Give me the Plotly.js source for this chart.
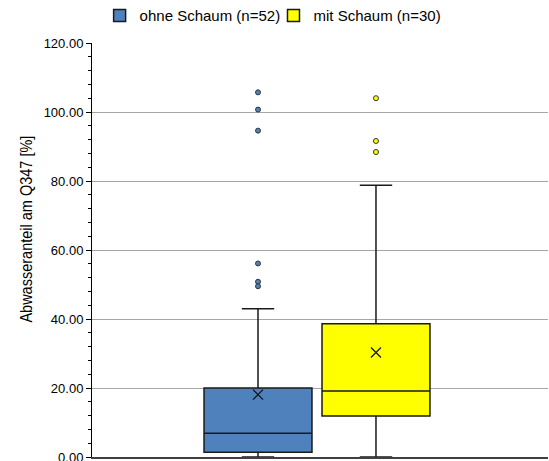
<!DOCTYPE html>
<html>
<head>
<meta charset="utf-8">
<script src="https://cdn.plot.ly/plotly-3.0.1.min.js"></script>
<style>html,body{margin:0;padding:0;background:#fff}#chart{width:549px;height:461px}</style>
</head>
<body>
<div id="chart"></div>
<script>
// Data
const categories = ['ohne Schaum (n=52)', 'mit Schaum (n=30)'];
const q1 = [1.4, 11.9];
const median = [6.9, 19.1];
const q3 = [20.0, 38.6];
const lowerWhisker = [0, 0];
const upperWhisker = [43.0, 78.8];
const means = [18.1, 30.3];
const outliersOhne = [105.7, 100.7, 94.6, 56.1, 50.8, 49.5];
const outliersMit = [104.0, 91.6, 88.4];
const yTicks = [0, 20, 40, 60, 80, 100, 120];
const yTitle = 'Abwasseranteil am Q347 [%]';

const fills = ['#4f81bd', '#ffff00'];
const outlierSets = [outliersOhne, outliersMit];
const legendIds = ['legend', 'legend2'];

const traces = [];
categories.forEach((name, i) => {
  traces.push({
    type: 'box', name: name, x: [i], legend: legendIds[i],
    q1: [q1[i]], median: [median[i]], q3: [q3[i]],
    lowerfence: [lowerWhisker[i]], upperfence: [upperWhisker[i]],
    width: 0.915, whiskerwidth: 0.3,
    fillcolor: fills[i], line: {color: '#1a1a1a', width: 1.5},
    boxpoints: false, hoverinfo: 'skip', showlegend: true
  });
});
categories.forEach((name, i) => {
  traces.push({
    type: 'scatter', mode: 'markers', x: outlierSets[i].map(() => i), y: outlierSets[i],
    marker: {symbol: 'circle', size: 5, color: fills[i], line: {color: '#333333', width: 1}},
    showlegend: false, hoverinfo: 'skip'
  });
  traces.push({
    type: 'scatter', mode: 'markers', x: [i], y: [means[i]],
    marker: {symbol: 'x-thin', size: 10, line: {color: '#111111', width: 1.2}},
    showlegend: false, hoverinfo: 'skip'
  });
});

const legendFont = {size: 15, family: 'Liberation Sans, Arial, sans-serif', color: '#000000'};
const legendBase = {orientation: 'h', yref: 'container', y: 0.9657, yanchor: 'middle',
                    xanchor: 'left', bgcolor: 'rgba(0,0,0,0)', font: legendFont};
const layout = {
  width: 549, height: 461,
  margin: {l: 92, r: 1, t: 43, b: 4},
  paper_bgcolor: '#ffffff', plot_bgcolor: '#ffffff',
  font: {family: 'Liberation Sans, Arial, sans-serif', color: '#000000'},
  showlegend: true,
  legend: Object.assign({}, legendBase, {x: 0.0167}),
  legend2: Object.assign({}, legendBase, {x: 0.398}),
  xaxis: {range: [-1.407, 2.458], showticklabels: false, ticks: '', showgrid: false,
          zeroline: false, showline: true, linecolor: '#404040', linewidth: 1.5, fixedrange: true},
  yaxis: {range: [0, 120], tickvals: yTicks, tickformat: '.2f', ticks: 'outside', ticklen: 5,
          tickcolor: '#000000', tickfont: {size: 13}, ticklabeloverflow: 'allow',
          showline: true, linecolor: '#000000', linewidth: 1,
          showgrid: true, gridcolor: '#a6a6a6', gridwidth: 1, zeroline: false,
          minor: {dtick: 4, ticks: 'outside', ticklen: 3, tickcolor: '#000000', showgrid: false},
          fixedrange: true},
  annotations: [{text: yTitle, textangle: -90, showarrow: false,
                 xref: 'paper', x: -0.1454, xanchor: 'center',
                 yref: 'paper', y: 0.5507, yanchor: 'middle',
                 font: {size: 17, family: 'Liberation Sans, Arial, sans-serif', color: '#000000'}}]
};

Plotly.newPlot('chart', traces, layout, {staticPlot: true, displayModeBar: false}).then(gd => {
  // condense the y-axis title like the narrow font of the original
  const t = gd.querySelector('.annotation-text');
  if (t) { t.setAttribute('textLength', '187'); t.setAttribute('lengthAdjust', 'spacingAndGlyphs'); }
});
</script>
</body>
</html>
